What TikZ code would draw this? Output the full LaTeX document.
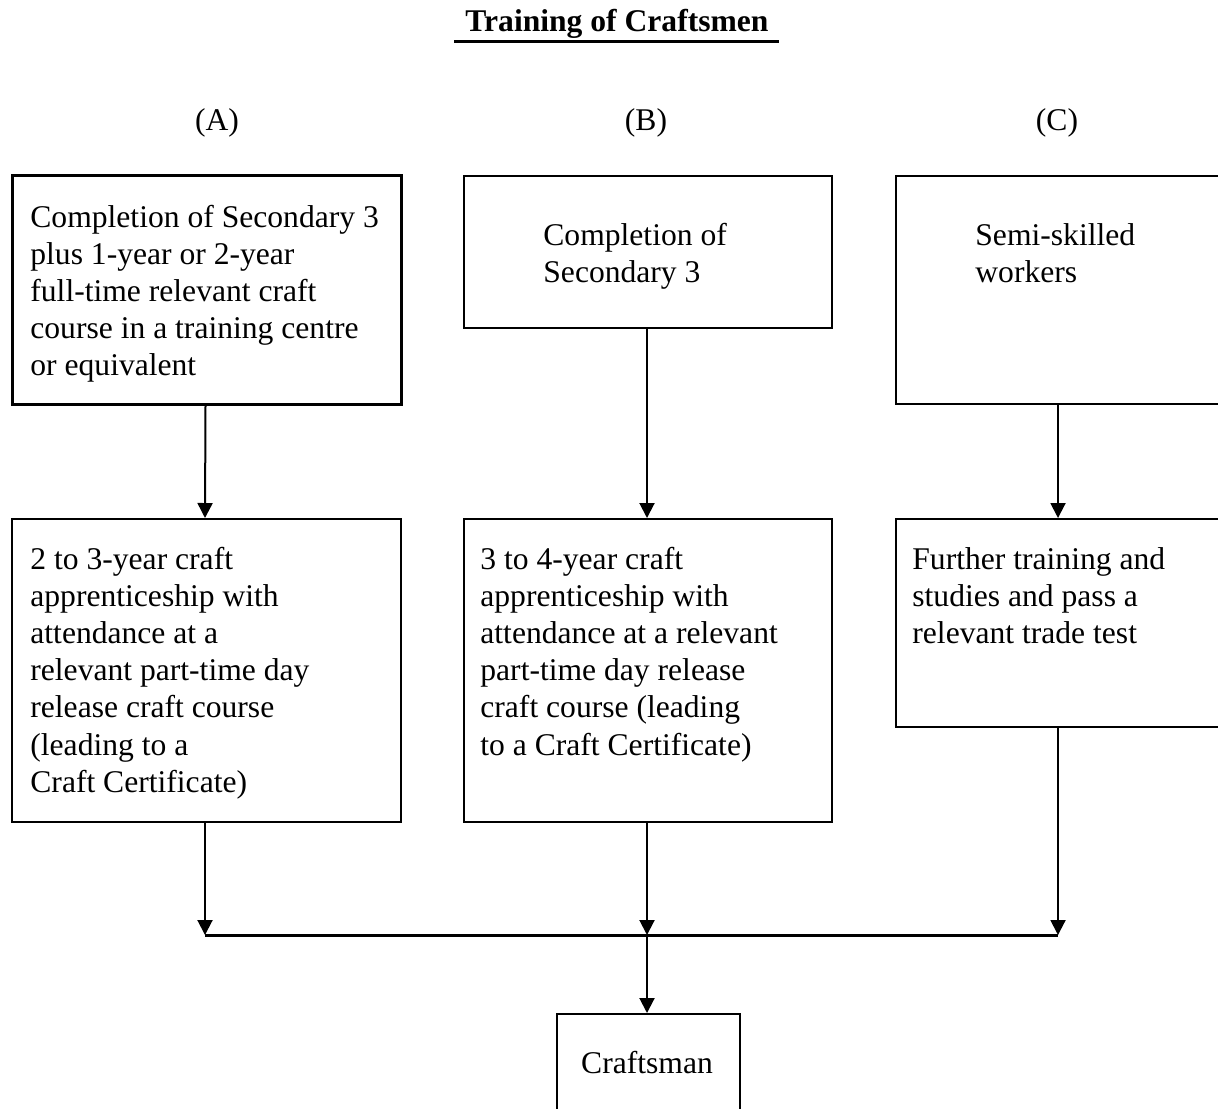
\documentclass[tikz,border=0pt]{standalone}
\usepackage{fontspec}
\setmainfont{Liberation Serif}
\usetikzlibrary{arrows.meta}
\begin{document}
\begin{tikzpicture}[x=0.5pt,y=-0.5pt,
  box/.style={draw, line width=1pt, inner sep=0pt, anchor=north west},
  txt/.style={anchor=base west, align=left, inner sep=0pt, font=\fontsize{15.8pt}{18.6pt}\selectfont},
  lbl/.style={anchor=base, inner sep=0pt, font=\fontsize{15.8pt}{18.6pt}\selectfont},
  arr/.style={line width=1pt, -{Triangle[width=7.5pt,length=7.5pt]}},
  bar/.style={line width=1.5pt}]
\clip (0,0) rectangle (1218,1108);
% title
\node[lbl, font=\fontsize{15.8pt}{18.6pt}\selectfont\bfseries] (title) at (617,32) {Training of Craftsmen};
\coordinate (ulA) at (454,41);
\coordinate (ulB) at (779,41);
\draw[bar] (ulA) -- (ulB);
% column labels
\node[lbl] (labA) at (217,130) {(A)};
\node[lbl] (labB) at (646,130) {(B)};
\node[lbl] (labC) at (1057,130) {(C)};
% boxes
\node[box, line width=1.5pt, minimum width=194.5pt, minimum height=114.5pt] (a1) at (11,174) {};
\node[box, minimum width=184pt, minimum height=76pt] (b1) at (463,175) {};
\node[box, minimum width=162pt, minimum height=114pt] (c1) at (895,175) {};
\node[box, minimum width=194.5pt, minimum height=151.5pt] (a2) at (11,518) {};
\node[box, minimum width=184pt, minimum height=151.5pt] (b2) at (463,518) {};
\node[box, minimum width=162pt, minimum height=104pt] (c2) at (895,518) {};
\node[box, minimum width=91.5pt, minimum height=55pt] (cr) at (556,1013) {};
% texts (anchored at the baseline of their last line)
\node[txt] (ta1) at (30,375.8) {Completion of Secondary 3\\plus 1-year or 2-year\\full-time relevant craft\\course in a training centre\\or equivalent};
\node[txt] (tb1) at (543,282.2) {Completion of\\Secondary 3};
\node[txt] (tc1) at (975,282.2) {Semi-skilled\\workers};
\node[txt] (ta2) at (30,792.2) {2 to 3-year craft\\apprenticeship with\\attendance at a\\relevant part-time day\\release craft course\\(leading to a\\Craft Certificate)};
\node[txt] (tb2) at (480,755) {3 to 4-year craft\\apprenticeship with\\attendance at a relevant\\part-time day release\\craft course (leading\\to a Craft Certificate)};
\node[txt] (tc2) at (912,643.4) {Further training and\\studies and pass a\\relevant trade test};
\node[lbl] (tcr) at (647,1073) {Craftsman};
% connectors
\draw[arr] ([xshift=-0.75pt]a1.south) -- ([xshift=-0.75pt]a2.north);
\draw[arr] ([xshift=-0.5pt]b1.south) -- ([xshift=-0.5pt]b2.north);
\draw[arr] (c1.south) -- (c2.north);
\coordinate (jA) at ([xshift=-0.75pt]a2.south |- 0,935);
\coordinate (jB) at ([xshift=-0.5pt]b2.south |- 0,935);
\coordinate (jC) at (c2.south |- 0,935);
\draw[arr] ([xshift=-0.75pt]a2.south) -- (jA);
\draw[arr] ([xshift=-0.5pt]b2.south) -- (jB);
\draw[arr] (c2.south) -- (jC);
\draw[bar] (jA) -- (jC);
\draw[arr] (jB) -- (cr.north -| jB);
\end{tikzpicture}
\end{document}
